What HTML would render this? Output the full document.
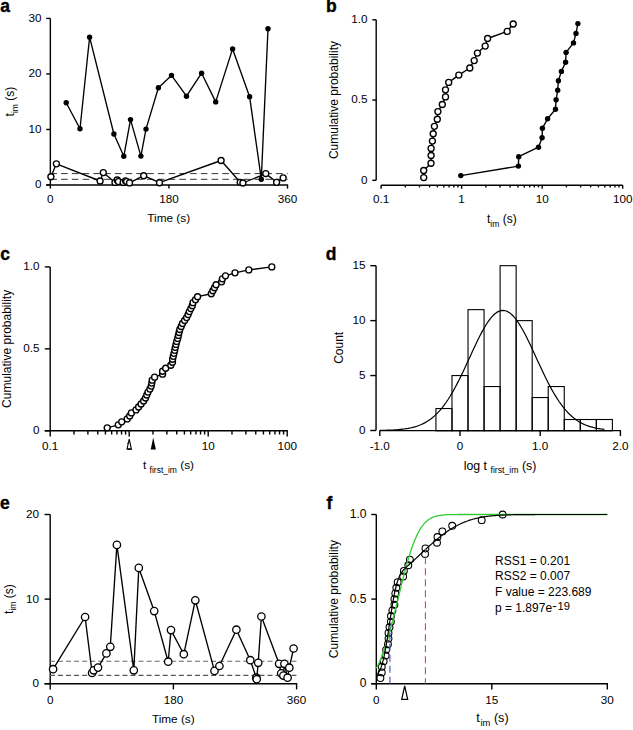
<!DOCTYPE html>
<html><head><meta charset="utf-8"><style>
html,body{margin:0;padding:0;background:#fff;}
svg{display:block;}
text{font-family:"Liberation Sans", sans-serif;fill:#000;}
</style></head><body>
<svg width="633" height="730" viewBox="0 0 633 730">
<rect width="633" height="730" fill="#fff"/>
<text x="0.20" y="12.40" font-size="17.5" text-anchor="start" font-weight="bold" stroke="#000" stroke-width="0.35">a</text>
<text x="326.00" y="12.40" font-size="17.5" text-anchor="start" font-weight="bold" stroke="#000" stroke-width="0.35">b</text>
<text x="0.20" y="259.60" font-size="17.5" text-anchor="start" font-weight="bold" stroke="#000" stroke-width="0.35">c</text>
<text x="325.80" y="259.60" font-size="17.5" text-anchor="start" font-weight="bold" stroke="#000" stroke-width="0.35">d</text>
<text x="0.00" y="509.20" font-size="17.5" text-anchor="start" font-weight="bold" stroke="#000" stroke-width="0.35">e</text>
<text x="326.40" y="509.20" font-size="17.5" text-anchor="start" font-weight="bold" stroke="#000" stroke-width="0.35">f</text>
<line x1="50.35" y1="18.41" x2="50.35" y2="185.00" stroke="#000" stroke-width="1.4" />
<line x1="46.20" y1="185.00" x2="50.35" y2="185.00" stroke="#000" stroke-width="1.4" />
<text x="41.60" y="188.40" font-size="11.7" text-anchor="end" font-weight="normal" >0</text>
<line x1="46.20" y1="129.47" x2="50.35" y2="129.47" stroke="#000" stroke-width="1.4" />
<text x="41.60" y="132.87" font-size="11.7" text-anchor="end" font-weight="normal" >10</text>
<line x1="46.20" y1="73.94" x2="50.35" y2="73.94" stroke="#000" stroke-width="1.4" />
<text x="41.60" y="77.34" font-size="11.7" text-anchor="end" font-weight="normal" >20</text>
<line x1="46.20" y1="18.41" x2="50.35" y2="18.41" stroke="#000" stroke-width="1.4" />
<text x="41.60" y="21.81" font-size="11.7" text-anchor="end" font-weight="normal" >30</text>
<line x1="46.20" y1="185.00" x2="288.10" y2="185.00" stroke="#000" stroke-width="1.4" />
<line x1="50.35" y1="185.00" x2="50.35" y2="188.60" stroke="#000" stroke-width="1.4" />
<text x="50.35" y="203.20" font-size="11.7" text-anchor="middle" font-weight="normal" >0</text>
<line x1="168.93" y1="185.00" x2="168.93" y2="188.60" stroke="#000" stroke-width="1.4" />
<text x="168.93" y="203.20" font-size="11.7" text-anchor="middle" font-weight="normal" >180</text>
<line x1="287.50" y1="185.00" x2="287.50" y2="188.60" stroke="#000" stroke-width="1.4" />
<text x="287.50" y="203.20" font-size="11.7" text-anchor="middle" font-weight="normal" >360</text>
<text x="168.70" y="221.60" font-size="11.8" text-anchor="middle" font-weight="normal" >Time (s)</text>
<text transform="translate(14.20,101.60) rotate(-90)" font-size="12" text-anchor="middle">t<tspan font-size="8.5" dy="3.5">im</tspan><tspan dy="-3.5"> (s)</tspan></text>
<line x1="50.35" y1="173.60" x2="287.70" y2="173.60" stroke="#333" stroke-width="1.0" stroke-dasharray="6.6 4.15"/>
<line x1="50.35" y1="179.30" x2="287.70" y2="179.30" stroke="#333" stroke-width="1.0" stroke-dasharray="6.6 4.15"/>
<polyline points="66.20,102.80 80.00,128.70 89.60,37.20 113.90,134.00 123.80,156.30 130.50,119.60 140.90,156.10 146.00,129.10 158.40,87.70 171.50,75.40 186.50,96.20 201.60,73.20 215.70,101.90 232.60,48.90 249.60,96.70 261.30,179.20 268.00,28.80" fill="none" stroke="#000" stroke-width="1.35" stroke-linejoin="round" />
<circle cx="66.20" cy="102.80" r="2.7" fill="#000"/>
<circle cx="80.00" cy="128.70" r="2.7" fill="#000"/>
<circle cx="89.60" cy="37.20" r="2.7" fill="#000"/>
<circle cx="113.90" cy="134.00" r="2.7" fill="#000"/>
<circle cx="123.80" cy="156.30" r="2.7" fill="#000"/>
<circle cx="130.50" cy="119.60" r="2.7" fill="#000"/>
<circle cx="140.90" cy="156.10" r="2.7" fill="#000"/>
<circle cx="146.00" cy="129.10" r="2.7" fill="#000"/>
<circle cx="158.40" cy="87.70" r="2.7" fill="#000"/>
<circle cx="171.50" cy="75.40" r="2.7" fill="#000"/>
<circle cx="186.50" cy="96.20" r="2.7" fill="#000"/>
<circle cx="201.60" cy="73.20" r="2.7" fill="#000"/>
<circle cx="215.70" cy="101.90" r="2.7" fill="#000"/>
<circle cx="232.60" cy="48.90" r="2.7" fill="#000"/>
<circle cx="249.60" cy="96.70" r="2.7" fill="#000"/>
<circle cx="261.30" cy="179.20" r="2.7" fill="#000"/>
<circle cx="268.00" cy="28.80" r="2.7" fill="#000"/>
<polyline points="50.90,176.70 56.40,163.80 100.10,181.00 103.30,172.60 115.00,182.40 117.20,180.00 118.40,181.60 123.20,182.40 125.50,180.80 126.60,181.60 129.50,182.90 143.70,175.70 159.50,182.70 221.10,160.50 240.20,182.30 242.90,183.00 265.80,173.60 276.60,182.30 283.20,177.90" fill="none" stroke="#000" stroke-width="1.35" stroke-linejoin="round" />
<circle cx="50.90" cy="176.70" r="3.0" fill="#fff" stroke="#000" stroke-width="1.35"/>
<circle cx="56.40" cy="163.80" r="3.0" fill="#fff" stroke="#000" stroke-width="1.35"/>
<circle cx="100.10" cy="181.00" r="3.0" fill="#fff" stroke="#000" stroke-width="1.35"/>
<circle cx="103.30" cy="172.60" r="3.0" fill="#fff" stroke="#000" stroke-width="1.35"/>
<circle cx="115.00" cy="182.40" r="3.0" fill="#fff" stroke="#000" stroke-width="1.35"/>
<circle cx="117.20" cy="180.00" r="3.0" fill="#fff" stroke="#000" stroke-width="1.35"/>
<circle cx="118.40" cy="181.60" r="3.0" fill="#fff" stroke="#000" stroke-width="1.35"/>
<circle cx="123.20" cy="182.40" r="3.0" fill="#fff" stroke="#000" stroke-width="1.35"/>
<circle cx="125.50" cy="180.80" r="3.0" fill="#fff" stroke="#000" stroke-width="1.35"/>
<circle cx="126.60" cy="181.60" r="3.0" fill="#fff" stroke="#000" stroke-width="1.35"/>
<circle cx="129.50" cy="182.90" r="3.0" fill="#fff" stroke="#000" stroke-width="1.35"/>
<circle cx="143.70" cy="175.70" r="3.0" fill="#fff" stroke="#000" stroke-width="1.35"/>
<circle cx="159.50" cy="182.70" r="3.0" fill="#fff" stroke="#000" stroke-width="1.35"/>
<circle cx="221.10" cy="160.50" r="3.0" fill="#fff" stroke="#000" stroke-width="1.35"/>
<circle cx="240.20" cy="182.30" r="3.0" fill="#fff" stroke="#000" stroke-width="1.35"/>
<circle cx="242.90" cy="183.00" r="3.0" fill="#fff" stroke="#000" stroke-width="1.35"/>
<circle cx="265.80" cy="173.60" r="3.0" fill="#fff" stroke="#000" stroke-width="1.35"/>
<circle cx="276.60" cy="182.30" r="3.0" fill="#fff" stroke="#000" stroke-width="1.35"/>
<circle cx="283.20" cy="177.90" r="3.0" fill="#fff" stroke="#000" stroke-width="1.35"/>
<line x1="376.20" y1="19.80" x2="376.20" y2="180.30" stroke="#000" stroke-width="1.4" />
<line x1="372.30" y1="180.30" x2="376.20" y2="180.30" stroke="#000" stroke-width="1.4" />
<text x="367.60" y="183.50" font-size="11.7" text-anchor="end" font-weight="normal" >0</text>
<line x1="372.30" y1="100.05" x2="376.20" y2="100.05" stroke="#000" stroke-width="1.4" />
<text x="367.60" y="103.25" font-size="11.7" text-anchor="end" font-weight="normal" >0.5</text>
<line x1="372.30" y1="19.80" x2="376.20" y2="19.80" stroke="#000" stroke-width="1.4" />
<text x="367.60" y="23.00" font-size="11.7" text-anchor="end" font-weight="normal" >1.0</text>
<line x1="381.10" y1="185.20" x2="622.70" y2="185.20" stroke="#000" stroke-width="1.4" />
<line x1="381.10" y1="185.20" x2="381.10" y2="188.80" stroke="#000" stroke-width="1.4" />
<line x1="405.34" y1="185.20" x2="405.34" y2="187.40" stroke="#000" stroke-width="1.4" />
<line x1="419.52" y1="185.20" x2="419.52" y2="187.40" stroke="#000" stroke-width="1.4" />
<line x1="429.59" y1="185.20" x2="429.59" y2="187.40" stroke="#000" stroke-width="1.4" />
<line x1="437.39" y1="185.20" x2="437.39" y2="187.40" stroke="#000" stroke-width="1.4" />
<line x1="443.77" y1="185.20" x2="443.77" y2="187.40" stroke="#000" stroke-width="1.4" />
<line x1="449.16" y1="185.20" x2="449.16" y2="187.40" stroke="#000" stroke-width="1.4" />
<line x1="453.83" y1="185.20" x2="453.83" y2="187.40" stroke="#000" stroke-width="1.4" />
<line x1="457.95" y1="185.20" x2="457.95" y2="187.40" stroke="#000" stroke-width="1.4" />
<line x1="461.63" y1="185.20" x2="461.63" y2="188.80" stroke="#000" stroke-width="1.4" />
<line x1="485.88" y1="185.20" x2="485.88" y2="187.40" stroke="#000" stroke-width="1.4" />
<line x1="500.06" y1="185.20" x2="500.06" y2="187.40" stroke="#000" stroke-width="1.4" />
<line x1="510.12" y1="185.20" x2="510.12" y2="187.40" stroke="#000" stroke-width="1.4" />
<line x1="517.92" y1="185.20" x2="517.92" y2="187.40" stroke="#000" stroke-width="1.4" />
<line x1="524.30" y1="185.20" x2="524.30" y2="187.40" stroke="#000" stroke-width="1.4" />
<line x1="529.69" y1="185.20" x2="529.69" y2="187.40" stroke="#000" stroke-width="1.4" />
<line x1="534.36" y1="185.20" x2="534.36" y2="187.40" stroke="#000" stroke-width="1.4" />
<line x1="538.48" y1="185.20" x2="538.48" y2="187.40" stroke="#000" stroke-width="1.4" />
<line x1="542.17" y1="185.20" x2="542.17" y2="188.80" stroke="#000" stroke-width="1.4" />
<line x1="566.41" y1="185.20" x2="566.41" y2="187.40" stroke="#000" stroke-width="1.4" />
<line x1="580.59" y1="185.20" x2="580.59" y2="187.40" stroke="#000" stroke-width="1.4" />
<line x1="590.65" y1="185.20" x2="590.65" y2="187.40" stroke="#000" stroke-width="1.4" />
<line x1="598.46" y1="185.20" x2="598.46" y2="187.40" stroke="#000" stroke-width="1.4" />
<line x1="604.83" y1="185.20" x2="604.83" y2="187.40" stroke="#000" stroke-width="1.4" />
<line x1="610.23" y1="185.20" x2="610.23" y2="187.40" stroke="#000" stroke-width="1.4" />
<line x1="614.90" y1="185.20" x2="614.90" y2="187.40" stroke="#000" stroke-width="1.4" />
<line x1="619.01" y1="185.20" x2="619.01" y2="187.40" stroke="#000" stroke-width="1.4" />
<line x1="622.70" y1="185.20" x2="622.70" y2="188.80" stroke="#000" stroke-width="1.4" />
<text x="381.10" y="203.20" font-size="11.7" text-anchor="middle" font-weight="normal" >0.1</text>
<text x="461.63" y="203.20" font-size="11.7" text-anchor="middle" font-weight="normal" >1</text>
<text x="542.17" y="203.20" font-size="11.7" text-anchor="middle" font-weight="normal" >10</text>
<text x="622.70" y="203.20" font-size="11.7" text-anchor="middle" font-weight="normal" >100</text>
<text x="501.80" y="222.90" font-size="12" text-anchor="middle" font-weight="normal" >t<tspan font-size="8.6" dy="3.9">im</tspan><tspan dy="-3.9"> (s)</tspan></text>
<text transform="translate(338.20,100.05) rotate(-90)" font-size="12" text-anchor="middle">Cumulative probability</text>
<polyline points="423.70,177.60 423.70,170.50 431.00,163.20 431.10,155.50 431.10,148.40 432.40,141.10 433.20,133.70 434.40,126.30 437.30,119.20 437.90,111.60 442.30,104.50 445.50,96.90 445.50,89.80 448.70,82.40 458.80,75.10 469.80,68.00 474.20,60.60 477.40,53.10 485.20,46.10 487.60,38.50 507.20,31.40 513.20,24.00" fill="none" stroke="#000" stroke-width="1.35" stroke-linejoin="round" />
<circle cx="423.70" cy="177.60" r="3.0" fill="#fff" stroke="#000" stroke-width="1.35"/>
<circle cx="423.70" cy="170.50" r="3.0" fill="#fff" stroke="#000" stroke-width="1.35"/>
<circle cx="431.00" cy="163.20" r="3.0" fill="#fff" stroke="#000" stroke-width="1.35"/>
<circle cx="431.10" cy="155.50" r="3.0" fill="#fff" stroke="#000" stroke-width="1.35"/>
<circle cx="431.10" cy="148.40" r="3.0" fill="#fff" stroke="#000" stroke-width="1.35"/>
<circle cx="432.40" cy="141.10" r="3.0" fill="#fff" stroke="#000" stroke-width="1.35"/>
<circle cx="433.20" cy="133.70" r="3.0" fill="#fff" stroke="#000" stroke-width="1.35"/>
<circle cx="434.40" cy="126.30" r="3.0" fill="#fff" stroke="#000" stroke-width="1.35"/>
<circle cx="437.30" cy="119.20" r="3.0" fill="#fff" stroke="#000" stroke-width="1.35"/>
<circle cx="437.90" cy="111.60" r="3.0" fill="#fff" stroke="#000" stroke-width="1.35"/>
<circle cx="442.30" cy="104.50" r="3.0" fill="#fff" stroke="#000" stroke-width="1.35"/>
<circle cx="445.50" cy="96.90" r="3.0" fill="#fff" stroke="#000" stroke-width="1.35"/>
<circle cx="445.50" cy="89.80" r="3.0" fill="#fff" stroke="#000" stroke-width="1.35"/>
<circle cx="448.70" cy="82.40" r="3.0" fill="#fff" stroke="#000" stroke-width="1.35"/>
<circle cx="458.80" cy="75.10" r="3.0" fill="#fff" stroke="#000" stroke-width="1.35"/>
<circle cx="469.80" cy="68.00" r="3.0" fill="#fff" stroke="#000" stroke-width="1.35"/>
<circle cx="474.20" cy="60.60" r="3.0" fill="#fff" stroke="#000" stroke-width="1.35"/>
<circle cx="477.40" cy="53.10" r="3.0" fill="#fff" stroke="#000" stroke-width="1.35"/>
<circle cx="485.20" cy="46.10" r="3.0" fill="#fff" stroke="#000" stroke-width="1.35"/>
<circle cx="487.60" cy="38.50" r="3.0" fill="#fff" stroke="#000" stroke-width="1.35"/>
<circle cx="507.20" cy="31.40" r="3.0" fill="#fff" stroke="#000" stroke-width="1.35"/>
<circle cx="513.20" cy="24.00" r="3.0" fill="#fff" stroke="#000" stroke-width="1.35"/>
<polyline points="460.80,175.60 518.40,166.10 518.70,156.70 538.50,147.20 542.10,137.70 542.40,128.20 547.60,118.80 555.50,109.30 556.10,99.80 557.70,90.30 558.40,80.80 561.40,71.40 565.60,62.20 566.10,52.40 573.50,42.90 576.00,33.40 577.90,23.60" fill="none" stroke="#000" stroke-width="1.35" stroke-linejoin="round" />
<circle cx="460.80" cy="175.60" r="2.7" fill="#000"/>
<circle cx="518.40" cy="166.10" r="2.7" fill="#000"/>
<circle cx="518.70" cy="156.70" r="2.7" fill="#000"/>
<circle cx="538.50" cy="147.20" r="2.7" fill="#000"/>
<circle cx="542.10" cy="137.70" r="2.7" fill="#000"/>
<circle cx="542.40" cy="128.20" r="2.7" fill="#000"/>
<circle cx="547.60" cy="118.80" r="2.7" fill="#000"/>
<circle cx="555.50" cy="109.30" r="2.7" fill="#000"/>
<circle cx="556.10" cy="99.80" r="2.7" fill="#000"/>
<circle cx="557.70" cy="90.30" r="2.7" fill="#000"/>
<circle cx="558.40" cy="80.80" r="2.7" fill="#000"/>
<circle cx="561.40" cy="71.40" r="2.7" fill="#000"/>
<circle cx="565.60" cy="62.20" r="2.7" fill="#000"/>
<circle cx="566.10" cy="52.40" r="2.7" fill="#000"/>
<circle cx="573.50" cy="42.90" r="2.7" fill="#000"/>
<circle cx="576.00" cy="33.40" r="2.7" fill="#000"/>
<circle cx="577.90" cy="23.60" r="2.7" fill="#000"/>
<line x1="50.20" y1="266.90" x2="50.20" y2="430.80" stroke="#000" stroke-width="1.4" />
<line x1="44.80" y1="430.80" x2="50.20" y2="430.80" stroke="#000" stroke-width="1.4" />
<text x="39.60" y="434.10" font-size="11.7" text-anchor="end" font-weight="normal" >0</text>
<line x1="44.80" y1="348.85" x2="50.20" y2="348.85" stroke="#000" stroke-width="1.4" />
<text x="39.60" y="352.15" font-size="11.7" text-anchor="end" font-weight="normal" >0.5</text>
<line x1="44.80" y1="266.90" x2="50.20" y2="266.90" stroke="#000" stroke-width="1.4" />
<text x="39.60" y="270.20" font-size="11.7" text-anchor="end" font-weight="normal" >1.0</text>
<line x1="44.80" y1="430.80" x2="287.80" y2="430.80" stroke="#000" stroke-width="1.4" />
<line x1="50.20" y1="430.80" x2="50.20" y2="436.50" stroke="#000" stroke-width="1.4" />
<line x1="73.98" y1="430.80" x2="73.98" y2="434.50" stroke="#000" stroke-width="1.4" />
<line x1="87.89" y1="430.80" x2="87.89" y2="434.50" stroke="#000" stroke-width="1.4" />
<line x1="97.76" y1="430.80" x2="97.76" y2="434.50" stroke="#000" stroke-width="1.4" />
<line x1="105.42" y1="430.80" x2="105.42" y2="434.50" stroke="#000" stroke-width="1.4" />
<line x1="111.67" y1="430.80" x2="111.67" y2="434.50" stroke="#000" stroke-width="1.4" />
<line x1="116.96" y1="430.80" x2="116.96" y2="434.50" stroke="#000" stroke-width="1.4" />
<line x1="121.54" y1="430.80" x2="121.54" y2="434.50" stroke="#000" stroke-width="1.4" />
<line x1="125.59" y1="430.80" x2="125.59" y2="434.50" stroke="#000" stroke-width="1.4" />
<line x1="129.20" y1="430.80" x2="129.20" y2="436.50" stroke="#000" stroke-width="1.4" />
<line x1="152.98" y1="430.80" x2="152.98" y2="434.50" stroke="#000" stroke-width="1.4" />
<line x1="166.89" y1="430.80" x2="166.89" y2="434.50" stroke="#000" stroke-width="1.4" />
<line x1="176.76" y1="430.80" x2="176.76" y2="434.50" stroke="#000" stroke-width="1.4" />
<line x1="184.42" y1="430.80" x2="184.42" y2="434.50" stroke="#000" stroke-width="1.4" />
<line x1="190.67" y1="430.80" x2="190.67" y2="434.50" stroke="#000" stroke-width="1.4" />
<line x1="195.96" y1="430.80" x2="195.96" y2="434.50" stroke="#000" stroke-width="1.4" />
<line x1="200.54" y1="430.80" x2="200.54" y2="434.50" stroke="#000" stroke-width="1.4" />
<line x1="204.59" y1="430.80" x2="204.59" y2="434.50" stroke="#000" stroke-width="1.4" />
<line x1="208.20" y1="430.80" x2="208.20" y2="436.50" stroke="#000" stroke-width="1.4" />
<line x1="231.98" y1="430.80" x2="231.98" y2="434.50" stroke="#000" stroke-width="1.4" />
<line x1="245.89" y1="430.80" x2="245.89" y2="434.50" stroke="#000" stroke-width="1.4" />
<line x1="255.76" y1="430.80" x2="255.76" y2="434.50" stroke="#000" stroke-width="1.4" />
<line x1="263.42" y1="430.80" x2="263.42" y2="434.50" stroke="#000" stroke-width="1.4" />
<line x1="269.67" y1="430.80" x2="269.67" y2="434.50" stroke="#000" stroke-width="1.4" />
<line x1="274.96" y1="430.80" x2="274.96" y2="434.50" stroke="#000" stroke-width="1.4" />
<line x1="279.54" y1="430.80" x2="279.54" y2="434.50" stroke="#000" stroke-width="1.4" />
<line x1="283.59" y1="430.80" x2="283.59" y2="434.50" stroke="#000" stroke-width="1.4" />
<line x1="287.20" y1="430.80" x2="287.20" y2="436.50" stroke="#000" stroke-width="1.4" />
<text x="50.20" y="450.30" font-size="11.7" text-anchor="middle" font-weight="normal" >0.1</text>
<text x="129.20" y="450.30" font-size="11.7" text-anchor="middle" font-weight="normal" >1</text>
<text x="208.20" y="450.30" font-size="11.7" text-anchor="middle" font-weight="normal" >10</text>
<text x="287.20" y="450.30" font-size="11.7" text-anchor="middle" font-weight="normal" >100</text>
<text x="143.00" y="469.20" font-size="11.8" text-anchor="start" font-weight="normal" >t <tspan font-size="8.5" dy="3.4">first_im</tspan><tspan dy="-3.4"> (s)</tspan></text>
<text transform="translate(10.60,348.85) rotate(-90)" font-size="12" text-anchor="middle">Cumulative probability</text>
<polyline points="107.20,427.82 118.30,424.84 121.70,421.86 127.20,418.88 129.70,415.90 131.40,412.92 136.00,409.94 138.60,406.96 141.10,403.98 143.60,401.00 145.50,398.02 146.80,395.04 148.00,392.06 149.90,389.08 151.20,386.10 151.80,383.12 152.20,380.14 154.60,377.16 162.60,374.18 162.60,371.20 165.70,368.22 170.80,365.24 172.50,362.26 172.60,359.28 173.30,356.30 174.00,353.32 174.70,350.34 175.30,347.36 176.00,344.38 176.70,341.40 177.70,338.42 178.40,335.44 179.10,332.46 179.80,329.48 181.20,326.50 182.50,323.52 184.60,320.54 186.60,317.56 188.10,314.58 189.30,311.60 190.80,308.62 192.30,305.64 193.00,302.66 195.50,299.68 197.60,296.70 211.30,293.72 212.90,290.74 214.50,287.76 216.10,284.78 221.60,281.80 222.40,278.82 225.50,275.84 235.00,272.86 248.80,269.88 271.80,266.90" fill="none" stroke="#000" stroke-width="1.35" stroke-linejoin="round" />
<circle cx="107.20" cy="427.82" r="3.0" fill="#fff" stroke="#000" stroke-width="1.35"/>
<circle cx="118.30" cy="424.84" r="3.0" fill="#fff" stroke="#000" stroke-width="1.35"/>
<circle cx="121.70" cy="421.86" r="3.0" fill="#fff" stroke="#000" stroke-width="1.35"/>
<circle cx="127.20" cy="418.88" r="3.0" fill="#fff" stroke="#000" stroke-width="1.35"/>
<circle cx="129.70" cy="415.90" r="3.0" fill="#fff" stroke="#000" stroke-width="1.35"/>
<circle cx="131.40" cy="412.92" r="3.0" fill="#fff" stroke="#000" stroke-width="1.35"/>
<circle cx="136.00" cy="409.94" r="3.0" fill="#fff" stroke="#000" stroke-width="1.35"/>
<circle cx="138.60" cy="406.96" r="3.0" fill="#fff" stroke="#000" stroke-width="1.35"/>
<circle cx="141.10" cy="403.98" r="3.0" fill="#fff" stroke="#000" stroke-width="1.35"/>
<circle cx="143.60" cy="401.00" r="3.0" fill="#fff" stroke="#000" stroke-width="1.35"/>
<circle cx="145.50" cy="398.02" r="3.0" fill="#fff" stroke="#000" stroke-width="1.35"/>
<circle cx="146.80" cy="395.04" r="3.0" fill="#fff" stroke="#000" stroke-width="1.35"/>
<circle cx="148.00" cy="392.06" r="3.0" fill="#fff" stroke="#000" stroke-width="1.35"/>
<circle cx="149.90" cy="389.08" r="3.0" fill="#fff" stroke="#000" stroke-width="1.35"/>
<circle cx="151.20" cy="386.10" r="3.0" fill="#fff" stroke="#000" stroke-width="1.35"/>
<circle cx="151.80" cy="383.12" r="3.0" fill="#fff" stroke="#000" stroke-width="1.35"/>
<circle cx="152.20" cy="380.14" r="3.0" fill="#fff" stroke="#000" stroke-width="1.35"/>
<circle cx="154.60" cy="377.16" r="3.0" fill="#fff" stroke="#000" stroke-width="1.35"/>
<circle cx="162.60" cy="374.18" r="3.0" fill="#fff" stroke="#000" stroke-width="1.35"/>
<circle cx="162.60" cy="371.20" r="3.0" fill="#fff" stroke="#000" stroke-width="1.35"/>
<circle cx="165.70" cy="368.22" r="3.0" fill="#fff" stroke="#000" stroke-width="1.35"/>
<circle cx="170.80" cy="365.24" r="3.0" fill="#fff" stroke="#000" stroke-width="1.35"/>
<circle cx="172.50" cy="362.26" r="3.0" fill="#fff" stroke="#000" stroke-width="1.35"/>
<circle cx="172.60" cy="359.28" r="3.0" fill="#fff" stroke="#000" stroke-width="1.35"/>
<circle cx="173.30" cy="356.30" r="3.0" fill="#fff" stroke="#000" stroke-width="1.35"/>
<circle cx="174.00" cy="353.32" r="3.0" fill="#fff" stroke="#000" stroke-width="1.35"/>
<circle cx="174.70" cy="350.34" r="3.0" fill="#fff" stroke="#000" stroke-width="1.35"/>
<circle cx="175.30" cy="347.36" r="3.0" fill="#fff" stroke="#000" stroke-width="1.35"/>
<circle cx="176.00" cy="344.38" r="3.0" fill="#fff" stroke="#000" stroke-width="1.35"/>
<circle cx="176.70" cy="341.40" r="3.0" fill="#fff" stroke="#000" stroke-width="1.35"/>
<circle cx="177.70" cy="338.42" r="3.0" fill="#fff" stroke="#000" stroke-width="1.35"/>
<circle cx="178.40" cy="335.44" r="3.0" fill="#fff" stroke="#000" stroke-width="1.35"/>
<circle cx="179.10" cy="332.46" r="3.0" fill="#fff" stroke="#000" stroke-width="1.35"/>
<circle cx="179.80" cy="329.48" r="3.0" fill="#fff" stroke="#000" stroke-width="1.35"/>
<circle cx="181.20" cy="326.50" r="3.0" fill="#fff" stroke="#000" stroke-width="1.35"/>
<circle cx="182.50" cy="323.52" r="3.0" fill="#fff" stroke="#000" stroke-width="1.35"/>
<circle cx="184.60" cy="320.54" r="3.0" fill="#fff" stroke="#000" stroke-width="1.35"/>
<circle cx="186.60" cy="317.56" r="3.0" fill="#fff" stroke="#000" stroke-width="1.35"/>
<circle cx="188.10" cy="314.58" r="3.0" fill="#fff" stroke="#000" stroke-width="1.35"/>
<circle cx="189.30" cy="311.60" r="3.0" fill="#fff" stroke="#000" stroke-width="1.35"/>
<circle cx="190.80" cy="308.62" r="3.0" fill="#fff" stroke="#000" stroke-width="1.35"/>
<circle cx="192.30" cy="305.64" r="3.0" fill="#fff" stroke="#000" stroke-width="1.35"/>
<circle cx="193.00" cy="302.66" r="3.0" fill="#fff" stroke="#000" stroke-width="1.35"/>
<circle cx="195.50" cy="299.68" r="3.0" fill="#fff" stroke="#000" stroke-width="1.35"/>
<circle cx="197.60" cy="296.70" r="3.0" fill="#fff" stroke="#000" stroke-width="1.35"/>
<circle cx="211.30" cy="293.72" r="3.0" fill="#fff" stroke="#000" stroke-width="1.35"/>
<circle cx="212.90" cy="290.74" r="3.0" fill="#fff" stroke="#000" stroke-width="1.35"/>
<circle cx="214.50" cy="287.76" r="3.0" fill="#fff" stroke="#000" stroke-width="1.35"/>
<circle cx="216.10" cy="284.78" r="3.0" fill="#fff" stroke="#000" stroke-width="1.35"/>
<circle cx="221.60" cy="281.80" r="3.0" fill="#fff" stroke="#000" stroke-width="1.35"/>
<circle cx="222.40" cy="278.82" r="3.0" fill="#fff" stroke="#000" stroke-width="1.35"/>
<circle cx="225.50" cy="275.84" r="3.0" fill="#fff" stroke="#000" stroke-width="1.35"/>
<circle cx="235.00" cy="272.86" r="3.0" fill="#fff" stroke="#000" stroke-width="1.35"/>
<circle cx="248.80" cy="269.88" r="3.0" fill="#fff" stroke="#000" stroke-width="1.35"/>
<circle cx="271.80" cy="266.90" r="3.0" fill="#fff" stroke="#000" stroke-width="1.35"/>
<path d="M129.2,439 L131.3,448.8 L127.1,448.8 Z" fill="#fff" stroke="#000" stroke-width="1.1" stroke-linejoin="miter"/>
<path d="M153.2,437.4 L155.9,449.4 L150.7,449.4 Z" fill="#000"/>
<line x1="376.05" y1="265.69" x2="376.05" y2="430.50" stroke="#000" stroke-width="1.4" />
<line x1="370.30" y1="430.50" x2="376.05" y2="430.50" stroke="#000" stroke-width="1.4" />
<text x="365.60" y="433.90" font-size="11.7" text-anchor="end" font-weight="normal" >0</text>
<line x1="370.30" y1="375.56" x2="376.05" y2="375.56" stroke="#000" stroke-width="1.4" />
<text x="365.60" y="378.96" font-size="11.7" text-anchor="end" font-weight="normal" >5</text>
<line x1="370.30" y1="320.63" x2="376.05" y2="320.63" stroke="#000" stroke-width="1.4" />
<text x="365.60" y="324.03" font-size="11.7" text-anchor="end" font-weight="normal" >10</text>
<line x1="370.30" y1="265.69" x2="376.05" y2="265.69" stroke="#000" stroke-width="1.4" />
<text x="365.60" y="269.09" font-size="11.7" text-anchor="end" font-weight="normal" >15</text>
<line x1="379.80" y1="430.60" x2="621.00" y2="430.60" stroke="#000" stroke-width="1.4" />
<line x1="379.80" y1="430.60" x2="379.80" y2="436.10" stroke="#000" stroke-width="1.4" />
<text x="379.80" y="450.30" font-size="11.7" text-anchor="middle" font-weight="normal" >-1.0</text>
<line x1="460.00" y1="430.60" x2="460.00" y2="436.10" stroke="#000" stroke-width="1.4" />
<text x="460.00" y="450.30" font-size="11.7" text-anchor="middle" font-weight="normal" >0</text>
<line x1="540.20" y1="430.60" x2="540.20" y2="436.10" stroke="#000" stroke-width="1.4" />
<text x="540.20" y="450.30" font-size="11.7" text-anchor="middle" font-weight="normal" >1.0</text>
<line x1="620.40" y1="430.60" x2="620.40" y2="436.10" stroke="#000" stroke-width="1.4" />
<text x="620.40" y="450.30" font-size="11.7" text-anchor="middle" font-weight="normal" >2.0</text>
<text x="463.80" y="469.50" font-size="12.3" text-anchor="start" font-weight="normal" >log t <tspan font-size="8.7" dy="3.2">first_im</tspan><tspan dy="-3.2"> (s)</tspan></text>
<text transform="translate(343.00,347.80) rotate(-90)" font-size="12" text-anchor="middle">Count</text>
<rect x="435.94" y="408.53" width="16.04" height="22.27" fill="none" stroke="#000" stroke-width="1.1"/>
<rect x="451.98" y="375.56" width="16.04" height="55.23" fill="none" stroke="#000" stroke-width="1.1"/>
<rect x="468.02" y="309.64" width="16.04" height="121.16" fill="none" stroke="#000" stroke-width="1.1"/>
<rect x="484.06" y="386.55" width="16.04" height="44.25" fill="none" stroke="#000" stroke-width="1.1"/>
<rect x="500.10" y="265.69" width="16.04" height="165.11" fill="none" stroke="#000" stroke-width="1.1"/>
<rect x="516.14" y="320.63" width="16.04" height="110.17" fill="none" stroke="#000" stroke-width="1.1"/>
<rect x="532.18" y="397.54" width="16.04" height="33.26" fill="none" stroke="#000" stroke-width="1.1"/>
<rect x="548.22" y="386.55" width="16.04" height="44.25" fill="none" stroke="#000" stroke-width="1.1"/>
<rect x="564.26" y="419.51" width="16.04" height="11.29" fill="none" stroke="#000" stroke-width="1.1"/>
<rect x="580.30" y="419.51" width="16.04" height="11.29" fill="none" stroke="#000" stroke-width="1.1"/>
<rect x="596.34" y="419.51" width="16.04" height="11.29" fill="none" stroke="#000" stroke-width="1.1"/>
<polyline points="379.80,430.37 381.69,430.34 383.57,430.30 385.46,430.26 387.35,430.21 389.24,430.14 391.12,430.07 393.01,429.98 394.90,429.87 396.78,429.75 398.67,429.60 400.56,429.42 402.44,429.22 404.33,428.99 406.22,428.71 408.11,428.40 409.99,428.03 411.88,427.62 413.77,427.14 415.65,426.60 417.54,425.98 419.43,425.28 421.32,424.50 423.20,423.62 425.09,422.63 426.98,421.54 428.86,420.32 430.75,418.97 432.64,417.49 434.52,415.86 436.41,414.08 438.30,412.15 440.19,410.05 442.07,407.79 443.96,405.36 445.85,402.76 447.73,399.98 449.62,397.04 451.51,393.92 453.40,390.65 455.28,387.22 457.17,383.65 459.06,379.95 460.94,376.12 462.83,372.20 464.72,368.19 466.60,364.12 468.49,360.01 470.38,355.89 472.27,351.78 474.15,347.71 476.04,343.70 477.93,339.79 479.81,336.02 481.70,332.39 483.59,328.96 485.48,325.74 487.36,322.77 489.25,320.06 491.14,317.66 493.02,315.56 494.91,313.81 496.80,312.40 498.68,311.36 500.57,310.70 502.46,310.42 504.35,310.53 506.23,311.01 508.12,311.88 510.01,313.12 511.89,314.72 513.78,316.66 515.67,318.92 517.56,321.49 519.44,324.35 521.33,327.46 523.22,330.80 525.10,334.34 526.99,338.05 528.88,341.90 530.76,345.86 532.65,349.91 534.54,354.00 536.43,358.13 538.31,362.24 540.20,366.34 542.09,370.37 543.97,374.34 545.86,378.21 547.75,381.97 549.64,385.60 551.52,389.10 553.41,392.44 555.30,395.63 557.18,398.65 559.07,401.51 560.96,404.19 562.84,406.70 564.73,409.04 566.62,411.21 568.51,413.22 570.39,415.07 572.28,416.76 574.17,418.31 576.05,419.72 577.94,420.99 579.83,422.14 581.72,423.18 583.60,424.11 585.49,424.94 587.38,425.67 589.26,426.33 591.15,426.90 593.04,427.41 594.92,427.85 596.81,428.24 598.70,428.57 600.59,428.87 602.47,429.12 604.36,429.34" fill="none" stroke="#000" stroke-width="1.2" stroke-linejoin="round" />
<line x1="50.20" y1="514.50" x2="50.20" y2="683.70" stroke="#000" stroke-width="1.4" />
<line x1="44.60" y1="683.70" x2="50.20" y2="683.70" stroke="#000" stroke-width="1.4" />
<text x="38.90" y="687.10" font-size="11.7" text-anchor="end" font-weight="normal" >0</text>
<line x1="44.60" y1="599.10" x2="50.20" y2="599.10" stroke="#000" stroke-width="1.4" />
<text x="38.90" y="602.50" font-size="11.7" text-anchor="end" font-weight="normal" >10</text>
<line x1="44.60" y1="514.50" x2="50.20" y2="514.50" stroke="#000" stroke-width="1.4" />
<text x="38.90" y="517.90" font-size="11.7" text-anchor="end" font-weight="normal" >20</text>
<line x1="44.60" y1="683.70" x2="297.20" y2="683.70" stroke="#000" stroke-width="1.4" />
<line x1="50.20" y1="683.70" x2="50.20" y2="689.40" stroke="#000" stroke-width="1.4" />
<text x="50.20" y="703.60" font-size="11.7" text-anchor="middle" font-weight="normal" >0</text>
<line x1="173.40" y1="683.70" x2="173.40" y2="689.40" stroke="#000" stroke-width="1.4" />
<text x="173.40" y="703.60" font-size="11.7" text-anchor="middle" font-weight="normal" >180</text>
<line x1="296.60" y1="683.70" x2="296.60" y2="689.40" stroke="#000" stroke-width="1.4" />
<text x="296.60" y="703.60" font-size="11.7" text-anchor="middle" font-weight="normal" >360</text>
<text x="173.30" y="722.70" font-size="11.8" text-anchor="middle" font-weight="normal" >Time (s)</text>
<text transform="translate(12.80,599.10) rotate(-90)" font-size="12" text-anchor="middle">t<tspan font-size="8.5" dy="3.5">im</tspan><tspan dy="-3.5"> (s)</tspan></text>
<line x1="49.90" y1="661.20" x2="296.40" y2="661.20" stroke="#666" stroke-width="1.1" stroke-dasharray="5.0 3.06"/>
<line x1="49.90" y1="675.40" x2="296.40" y2="675.40" stroke="#555" stroke-width="1.1" stroke-dasharray="5.0 3.06"/>
<polyline points="53.10,669.20 85.10,617.00 92.10,672.90 93.70,670.30 98.00,667.60 106.40,653.40 110.30,646.80 116.90,544.90 133.80,670.30 138.80,567.90 154.20,611.10 168.20,661.70 171.00,630.10 183.80,654.20 195.30,600.30 214.50,670.90 219.40,666.00 236.40,629.70 250.30,660.20 256.30,677.70 256.70,679.20 258.20,662.80 261.40,616.50 279.10,663.80 281.20,673.40 283.40,675.60 284.40,663.80 287.60,677.70 289.30,667.70 293.60,648.50" fill="none" stroke="#000" stroke-width="1.35" stroke-linejoin="round" />
<circle cx="53.10" cy="669.20" r="3.7" fill="#fff" stroke="#000" stroke-width="1.3"/>
<circle cx="85.10" cy="617.00" r="3.7" fill="#fff" stroke="#000" stroke-width="1.3"/>
<circle cx="92.10" cy="672.90" r="3.7" fill="#fff" stroke="#000" stroke-width="1.3"/>
<circle cx="93.70" cy="670.30" r="3.7" fill="#fff" stroke="#000" stroke-width="1.3"/>
<circle cx="98.00" cy="667.60" r="3.7" fill="#fff" stroke="#000" stroke-width="1.3"/>
<circle cx="106.40" cy="653.40" r="3.7" fill="#fff" stroke="#000" stroke-width="1.3"/>
<circle cx="110.30" cy="646.80" r="3.7" fill="#fff" stroke="#000" stroke-width="1.3"/>
<circle cx="116.90" cy="544.90" r="3.7" fill="#fff" stroke="#000" stroke-width="1.3"/>
<circle cx="133.80" cy="670.30" r="3.7" fill="#fff" stroke="#000" stroke-width="1.3"/>
<circle cx="138.80" cy="567.90" r="3.7" fill="#fff" stroke="#000" stroke-width="1.3"/>
<circle cx="154.20" cy="611.10" r="3.7" fill="#fff" stroke="#000" stroke-width="1.3"/>
<circle cx="168.20" cy="661.70" r="3.7" fill="#fff" stroke="#000" stroke-width="1.3"/>
<circle cx="171.00" cy="630.10" r="3.7" fill="#fff" stroke="#000" stroke-width="1.3"/>
<circle cx="183.80" cy="654.20" r="3.7" fill="#fff" stroke="#000" stroke-width="1.3"/>
<circle cx="195.30" cy="600.30" r="3.7" fill="#fff" stroke="#000" stroke-width="1.3"/>
<circle cx="214.50" cy="670.90" r="3.7" fill="#fff" stroke="#000" stroke-width="1.3"/>
<circle cx="219.40" cy="666.00" r="3.7" fill="#fff" stroke="#000" stroke-width="1.3"/>
<circle cx="236.40" cy="629.70" r="3.7" fill="#fff" stroke="#000" stroke-width="1.3"/>
<circle cx="250.30" cy="660.20" r="3.7" fill="#fff" stroke="#000" stroke-width="1.3"/>
<circle cx="256.30" cy="677.70" r="3.7" fill="#fff" stroke="#000" stroke-width="1.3"/>
<circle cx="256.70" cy="679.20" r="3.7" fill="#fff" stroke="#000" stroke-width="1.3"/>
<circle cx="258.20" cy="662.80" r="3.7" fill="#fff" stroke="#000" stroke-width="1.3"/>
<circle cx="261.40" cy="616.50" r="3.7" fill="#fff" stroke="#000" stroke-width="1.3"/>
<circle cx="279.10" cy="663.80" r="3.7" fill="#fff" stroke="#000" stroke-width="1.3"/>
<circle cx="281.20" cy="673.40" r="3.7" fill="#fff" stroke="#000" stroke-width="1.3"/>
<circle cx="283.40" cy="675.60" r="3.7" fill="#fff" stroke="#000" stroke-width="1.3"/>
<circle cx="284.40" cy="663.80" r="3.7" fill="#fff" stroke="#000" stroke-width="1.3"/>
<circle cx="287.60" cy="677.70" r="3.7" fill="#fff" stroke="#000" stroke-width="1.3"/>
<circle cx="289.30" cy="667.70" r="3.7" fill="#fff" stroke="#000" stroke-width="1.3"/>
<circle cx="293.60" cy="648.50" r="3.7" fill="#fff" stroke="#000" stroke-width="1.3"/>
<line x1="376.30" y1="514.50" x2="376.30" y2="683.70" stroke="#000" stroke-width="1.4" />
<line x1="371.30" y1="683.70" x2="376.30" y2="683.70" stroke="#000" stroke-width="1.4" />
<text x="366.40" y="687.20" font-size="12" text-anchor="end" font-weight="normal" >0</text>
<line x1="371.30" y1="599.10" x2="376.30" y2="599.10" stroke="#000" stroke-width="1.4" />
<text x="366.40" y="602.60" font-size="12" text-anchor="end" font-weight="normal" >0.5</text>
<line x1="371.30" y1="514.50" x2="376.30" y2="514.50" stroke="#000" stroke-width="1.4" />
<text x="366.40" y="518.00" font-size="12" text-anchor="end" font-weight="normal" >1.0</text>
<line x1="371.30" y1="683.70" x2="607.90" y2="683.70" stroke="#000" stroke-width="1.4" />
<line x1="376.30" y1="683.70" x2="376.30" y2="689.40" stroke="#000" stroke-width="1.4" />
<text x="376.30" y="703.60" font-size="11.7" text-anchor="middle" font-weight="normal" >0</text>
<line x1="491.80" y1="683.70" x2="491.80" y2="689.40" stroke="#000" stroke-width="1.4" />
<text x="491.80" y="703.60" font-size="11.7" text-anchor="middle" font-weight="normal" >15</text>
<line x1="607.30" y1="683.70" x2="607.30" y2="689.40" stroke="#000" stroke-width="1.4" />
<text x="607.30" y="703.60" font-size="11.7" text-anchor="middle" font-weight="normal" >30</text>
<text x="492.40" y="721.80" font-size="12.6" text-anchor="middle" font-weight="normal" >t<tspan font-size="9.4" dy="4.0" dx="0.8">im</tspan><tspan dy="-4.0"> (s)</tspan></text>
<text transform="translate(338.20,599.10) rotate(-90)" font-size="12" text-anchor="middle">Cumulative probability</text>
<circle cx="380.40" cy="678.06" r="3.4" fill="none" stroke="#000" stroke-width="1.1"/>
<circle cx="381.76" cy="672.42" r="3.4" fill="none" stroke="#000" stroke-width="1.1"/>
<circle cx="381.76" cy="666.78" r="3.4" fill="none" stroke="#000" stroke-width="1.1"/>
<circle cx="383.67" cy="661.14" r="3.4" fill="none" stroke="#000" stroke-width="1.1"/>
<circle cx="385.67" cy="655.50" r="3.4" fill="none" stroke="#000" stroke-width="1.1"/>
<circle cx="386.13" cy="649.86" r="3.4" fill="none" stroke="#000" stroke-width="1.1"/>
<circle cx="387.95" cy="644.22" r="3.4" fill="none" stroke="#000" stroke-width="1.1"/>
<circle cx="388.50" cy="638.58" r="3.4" fill="none" stroke="#000" stroke-width="1.1"/>
<circle cx="388.50" cy="632.94" r="3.4" fill="none" stroke="#000" stroke-width="1.1"/>
<circle cx="389.50" cy="627.30" r="3.4" fill="none" stroke="#000" stroke-width="1.1"/>
<circle cx="390.86" cy="621.66" r="3.4" fill="none" stroke="#000" stroke-width="1.1"/>
<circle cx="390.95" cy="616.02" r="3.4" fill="none" stroke="#000" stroke-width="1.1"/>
<circle cx="392.41" cy="610.38" r="3.4" fill="none" stroke="#000" stroke-width="1.1"/>
<circle cx="394.41" cy="604.74" r="3.4" fill="none" stroke="#000" stroke-width="1.1"/>
<circle cx="394.41" cy="599.10" r="3.4" fill="none" stroke="#000" stroke-width="1.1"/>
<circle cx="395.32" cy="593.46" r="3.4" fill="none" stroke="#000" stroke-width="1.1"/>
<circle cx="396.32" cy="587.82" r="3.4" fill="none" stroke="#000" stroke-width="1.1"/>
<circle cx="397.69" cy="582.18" r="3.4" fill="none" stroke="#000" stroke-width="1.1"/>
<circle cx="403.15" cy="576.54" r="3.4" fill="none" stroke="#000" stroke-width="1.1"/>
<circle cx="403.88" cy="570.90" r="3.4" fill="none" stroke="#000" stroke-width="1.1"/>
<circle cx="408.34" cy="565.26" r="3.4" fill="none" stroke="#000" stroke-width="1.1"/>
<circle cx="409.89" cy="559.62" r="3.4" fill="none" stroke="#000" stroke-width="1.1"/>
<circle cx="425.08" cy="553.98" r="3.4" fill="none" stroke="#000" stroke-width="1.1"/>
<circle cx="425.45" cy="548.34" r="3.4" fill="none" stroke="#000" stroke-width="1.1"/>
<circle cx="437.01" cy="542.70" r="3.4" fill="none" stroke="#000" stroke-width="1.1"/>
<circle cx="437.46" cy="537.06" r="3.4" fill="none" stroke="#000" stroke-width="1.1"/>
<circle cx="442.38" cy="531.42" r="3.4" fill="none" stroke="#000" stroke-width="1.1"/>
<circle cx="452.21" cy="525.78" r="3.4" fill="none" stroke="#000" stroke-width="1.1"/>
<circle cx="481.70" cy="520.14" r="3.4" fill="none" stroke="#000" stroke-width="1.1"/>
<circle cx="502.63" cy="514.50" r="3.4" fill="none" stroke="#000" stroke-width="1.1"/>
<polyline points="376.30,668.11 377.07,666.75 377.85,665.30 378.62,663.76 379.39,662.14 380.16,660.42 380.94,658.61 381.71,656.71 382.48,654.72 383.25,652.64 384.03,650.47 384.80,648.21 385.57,645.86 386.34,643.42 387.12,640.90 387.89,638.30 388.66,635.62 389.43,632.87 390.21,630.05 390.98,627.17 391.75,624.23 392.52,621.23 393.30,618.19 394.07,615.10 394.84,611.98 395.61,608.83 396.39,605.66 397.16,602.47 397.93,599.28 398.70,596.09 399.48,592.90 400.25,589.73 401.02,586.57 401.79,583.45 402.57,580.36 403.34,577.31 404.11,574.31 404.89,571.36 405.66,568.47 406.43,565.64 407.20,562.88 407.98,560.20 408.75,557.59 409.52,555.06 410.29,552.61 411.07,550.25 411.84,547.98 412.61,545.80 413.38,543.71 414.16,541.71 414.93,539.80 415.70,537.98 416.47,536.25 417.25,534.62 418.02,533.07 418.79,531.61 419.56,530.24 420.34,528.94 421.11,527.73 421.88,526.60 422.65,525.55 423.43,524.56 424.20,523.65 424.97,522.80 425.74,522.02 426.52,521.30 427.29,520.64 428.06,520.03 428.84,519.47 429.61,518.95 430.38,518.49 431.15,518.06 431.93,517.68 432.70,517.33 433.47,517.01 434.24,516.73 435.02,516.47 435.79,516.24 436.56,516.03 437.33,515.85 438.11,515.68 438.88,515.53 439.65,515.40 440.42,515.29 441.20,515.19 441.97,515.10 442.74,515.02 443.51,514.95 444.29,514.89 445.06,514.83 445.83,514.79 446.60,514.74 447.38,514.71 448.15,514.68 448.92,514.65 449.69,514.63 450.47,514.61 451.24,514.59 452.01,514.58 452.78,514.57 453.56,514.56 454.33,514.55 455.10,514.54 455.88,514.53 456.65,514.53 457.42,514.52 458.19,514.52 458.97,514.52 459.74,514.51 460.51,514.51 461.28,514.51 462.06,514.51 462.83,514.51 463.60,514.50 464.37,514.50 465.15,514.50 465.92,514.50 466.69,514.50 467.46,514.50 468.24,514.50 469.01,514.50 469.78,514.50 470.55,514.50 471.33,514.50 472.10,514.50 472.87,514.50 473.64,514.50 474.42,514.50 475.19,514.50 475.96,514.50 476.73,514.50 477.51,514.50 478.28,514.50 479.05,514.50 479.83,514.50 480.60,514.50 481.37,514.50 482.14,514.50 482.92,514.50 483.69,514.50 484.46,514.50 485.23,514.50 486.01,514.50 486.78,514.50 487.55,514.50 488.32,514.50 489.10,514.50 489.87,514.50 490.64,514.50 491.41,514.50 492.19,514.50 492.96,514.50 493.73,514.50 494.50,514.50 495.28,514.50 496.05,514.50 496.82,514.50 497.59,514.50 498.37,514.50 499.14,514.50 499.91,514.50 500.68,514.50 501.46,514.50 502.23,514.50 503.00,514.50 503.77,514.50 504.55,514.50 505.32,514.50 506.09,514.50 506.87,514.50 507.64,514.50 508.41,514.50 509.18,514.50 509.96,514.50 510.73,514.50 511.50,514.50 512.27,514.50 513.05,514.50 513.82,514.50 514.59,514.50 515.36,514.50 516.14,514.50 516.91,514.50 517.68,514.50 518.45,514.50 519.23,514.50 520.00,514.50 520.77,514.50 521.54,514.50 522.32,514.50 523.09,514.50 523.86,514.50 524.63,514.50 525.41,514.50 526.18,514.50 526.95,514.50 527.72,514.50 528.50,514.50 529.27,514.50 530.04,514.50 530.82,514.50 531.59,514.50 532.36,514.50 533.13,514.50 533.91,514.50 534.68,514.50 535.45,514.50 536.22,514.50 537.00,514.50 537.77,514.50 538.54,514.50 539.31,514.50 540.09,514.50 540.86,514.50 541.63,514.50 542.40,514.50 543.18,514.50 543.95,514.50 544.72,514.50 545.49,514.50 546.27,514.50 547.04,514.50 547.81,514.50 548.58,514.50 549.36,514.50 550.13,514.50 550.90,514.50 551.67,514.50 552.45,514.50 553.22,514.50 553.99,514.50 554.76,514.50 555.54,514.50 556.31,514.50 557.08,514.50 557.86,514.50 558.63,514.50 559.40,514.50 560.17,514.50 560.95,514.50 561.72,514.50 562.49,514.50 563.26,514.50 564.04,514.50 564.81,514.50 565.58,514.50 566.35,514.50 567.13,514.50 567.90,514.50 568.67,514.50 569.44,514.50 570.22,514.50 570.99,514.50 571.76,514.50 572.53,514.50 573.31,514.50 574.08,514.50 574.85,514.50 575.62,514.50 576.40,514.50 577.17,514.50 577.94,514.50 578.71,514.50 579.49,514.50 580.26,514.50 581.03,514.50 581.81,514.50 582.58,514.50 583.35,514.50 584.12,514.50 584.90,514.50 585.67,514.50 586.44,514.50 587.21,514.50 587.99,514.50 588.76,514.50 589.53,514.50 590.30,514.50 591.08,514.50 591.85,514.50 592.62,514.50 593.39,514.50 594.17,514.50 594.94,514.50 595.71,514.50 596.48,514.50 597.26,514.50 598.03,514.50 598.80,514.50 599.57,514.50 600.35,514.50 601.12,514.50 601.89,514.50 602.66,514.50 603.44,514.50 604.21,514.50 604.98,514.50 605.75,514.50 606.53,514.50 607.30,514.50" fill="none" stroke="#33cc33" stroke-width="1.3" stroke-linejoin="round" />
<polyline points="376.30,675.26 377.07,674.50 377.85,673.58 378.62,672.47 379.39,671.14 380.16,669.54 380.94,667.65 381.71,665.43 382.48,662.85 383.25,659.89 384.03,656.54 384.80,652.80 385.57,648.69 386.34,644.25 387.12,639.51 387.89,634.54 388.66,629.40 389.43,624.19 390.21,618.97 390.98,613.83 391.75,608.85 392.52,604.10 393.30,599.63 394.07,595.49 394.84,591.70 395.61,588.28 396.39,585.23 397.16,582.54 397.93,580.18 398.70,578.13 399.48,576.35 400.25,574.80 401.02,573.45 401.79,572.27 402.57,571.22 403.34,570.27 404.11,569.40 404.89,568.59 405.66,567.82 406.43,567.08 407.20,566.36 407.98,565.66 408.75,564.96 409.52,564.26 410.29,563.56 411.07,562.87 411.84,562.17 412.61,561.47 413.38,560.76 414.16,560.05 414.93,559.34 415.70,558.63 416.47,557.91 417.25,557.19 418.02,556.47 418.79,555.75 419.56,555.03 420.34,554.30 421.11,553.58 421.88,552.86 422.65,552.14 423.43,551.41 424.20,550.69 424.97,549.98 425.74,549.26 426.52,548.54 427.29,547.83 428.06,547.12 428.84,546.42 429.61,545.72 430.38,545.02 431.15,544.33 431.93,543.64 432.70,542.96 433.47,542.29 434.24,541.61 435.02,540.95 435.79,540.29 436.56,539.64 437.33,539.00 438.11,538.36 438.88,537.73 439.65,537.11 440.42,536.50 441.20,535.89 441.97,535.29 442.74,534.70 443.51,534.13 444.29,533.55 445.06,532.99 445.83,532.44 446.60,531.90 447.38,531.36 448.15,530.84 448.92,530.33 449.69,529.82 450.47,529.33 451.24,528.84 452.01,528.37 452.78,527.91 453.56,527.45 454.33,527.01 455.10,526.57 455.88,526.15 456.65,525.74 457.42,525.33 458.19,524.94 458.97,524.55 459.74,524.18 460.51,523.82 461.28,523.46 462.06,523.12 462.83,522.78 463.60,522.46 464.37,522.14 465.15,521.84 465.92,521.54 466.69,521.25 467.46,520.97 468.24,520.70 469.01,520.44 469.78,520.18 470.55,519.94 471.33,519.70 472.10,519.47 472.87,519.25 473.64,519.04 474.42,518.83 475.19,518.64 475.96,518.44 476.73,518.26 477.51,518.08 478.28,517.91 479.05,517.75 479.83,517.59 480.60,517.44 481.37,517.30 482.14,517.16 482.92,517.03 483.69,516.90 484.46,516.78 485.23,516.66 486.01,516.55 486.78,516.44 487.55,516.34 488.32,516.24 489.10,516.15 489.87,516.06 490.64,515.97 491.41,515.89 492.19,515.81 492.96,515.74 493.73,515.67 494.50,515.60 495.28,515.54 496.05,515.48 496.82,515.42 497.59,515.37 498.37,515.32 499.14,515.27 499.91,515.22 500.68,515.18 501.46,515.14 502.23,515.10 503.00,515.06 503.77,515.03 504.55,514.99 505.32,514.96 506.09,514.93 506.87,514.91 507.64,514.88 508.41,514.86 509.18,514.83 509.96,514.81 510.73,514.79 511.50,514.77 512.27,514.75 513.05,514.74 513.82,514.72 514.59,514.70 515.36,514.69 516.14,514.68 516.91,514.66 517.68,514.65 518.45,514.64 519.23,514.63 520.00,514.62 520.77,514.61 521.54,514.61 522.32,514.60 523.09,514.59 523.86,514.58 524.63,514.58 525.41,514.57 526.18,514.57 526.95,514.56 527.72,514.56 528.50,514.55 529.27,514.55 530.04,514.54 530.82,514.54 531.59,514.54 532.36,514.53 533.13,514.53 533.91,514.53 534.68,514.53 535.45,514.52 536.22,514.52 537.00,514.52 537.77,514.52 538.54,514.52 539.31,514.52 540.09,514.51 540.86,514.51 541.63,514.51 542.40,514.51 543.18,514.51 543.95,514.51 544.72,514.51 545.49,514.51 546.27,514.51 547.04,514.51 547.81,514.51 548.58,514.51 549.36,514.51 550.13,514.50 550.90,514.50 551.67,514.50 552.45,514.50 553.22,514.50 553.99,514.50 554.76,514.50 555.54,514.50 556.31,514.50 557.08,514.50 557.86,514.50 558.63,514.50 559.40,514.50 560.17,514.50 560.95,514.50 561.72,514.50 562.49,514.50 563.26,514.50 564.04,514.50 564.81,514.50 565.58,514.50 566.35,514.50 567.13,514.50 567.90,514.50 568.67,514.50 569.44,514.50 570.22,514.50 570.99,514.50 571.76,514.50 572.53,514.50 573.31,514.50 574.08,514.50 574.85,514.50 575.62,514.50 576.40,514.50 577.17,514.50 577.94,514.50 578.71,514.50 579.49,514.50 580.26,514.50 581.03,514.50 581.81,514.50 582.58,514.50 583.35,514.50 584.12,514.50 584.90,514.50 585.67,514.50 586.44,514.50 587.21,514.50 587.99,514.50 588.76,514.50 589.53,514.50 590.30,514.50 591.08,514.50 591.85,514.50 592.62,514.50 593.39,514.50 594.17,514.50 594.94,514.50 595.71,514.50 596.48,514.50 597.26,514.50 598.03,514.50 598.80,514.50 599.57,514.50 600.35,514.50 601.12,514.50 601.89,514.50 602.66,514.50 603.44,514.50 604.21,514.50 604.98,514.50 605.75,514.50 606.53,514.50 607.30,514.50" fill="none" stroke="#000" stroke-width="1.2" stroke-linejoin="round" />
<line x1="389.90" y1="683.70" x2="389.90" y2="626.00" stroke="#4a5cc8" stroke-width="1.2" stroke-dasharray="7 4"/>
<line x1="425.40" y1="683.70" x2="425.40" y2="548.50" stroke="#d84040" stroke-width="1.05" stroke-dasharray="7 4" stroke-dashoffset="1.5"/>
<path d="M404.7,686.0 L407.7,699.4 L401.7,699.4 Z" fill="#fff" stroke="#000" stroke-width="1.2" stroke-linejoin="miter"/>
<text x="495.00" y="564.50" font-size="12" text-anchor="start" font-weight="normal" >RSS1 = 0.201</text>
<text x="495.00" y="580.30" font-size="12" text-anchor="start" font-weight="normal" >RSS2 = 0.007</text>
<text x="495.00" y="596.10" font-size="12" text-anchor="start" font-weight="normal" >F value = 223.689</text>
<text x="495.00" y="611.90" font-size="12" text-anchor="start" font-weight="normal" >p = 1.897e<tspan font-size="13.5" dy="-2.4" dx="0.3">-</tspan><tspan font-size="11.2" dx="0.6">19</tspan></text>
</svg>
</body></html>
